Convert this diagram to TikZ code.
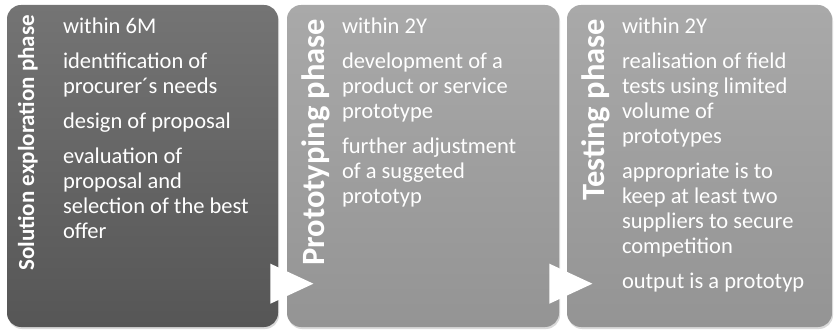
\documentclass[tikz,border=0pt]{standalone}
\usepackage{fontspec}
\setmainfont{Carlito}
\usetikzlibrary{shapes,shadows,positioning,calc}
\definecolor{darkTop}{HTML}{747474}
\definecolor{darkBot}{HTML}{565656}
\definecolor{lightTop}{HTML}{A9A9A9}
\definecolor{lightBot}{HTML}{949494}
\newcommand{\itemsize}{\fontsize{22.5}{25}\selectfont}

\begin{document}
\begin{tikzpicture}
[x=1pt,y=1pt,
 phase/.style={rectangle,rounded corners=14pt,inner sep=0pt,minimum height=322pt,
   drop shadow={opacity=.3,shadow xshift=1pt,shadow yshift=-2pt}},
 title/.style={rotate=90,anchor=north east,inner sep=0pt,text=white},
 items/.style={anchor=north west,inner sep=0pt,align=left,text=white,font=\itemsize},
 gap/.style={isosceles triangle,isosceles triangle stretches,fill=white,inner sep=0pt,
   minimum width=40pt,minimum height=43pt,anchor=lower side}]
\useasboundingbox (0,0) rectangle (835,332);
%% phases
\node[phase,minimum width=271pt,top color=darkTop,bottom color=darkBot] (E) at (142.5,166) {};
\node[phase,minimum width=272pt,top color=lightTop,bottom color=lightBot] (P) at (423,166) {};
\node[phase,minimum width=265pt,top color=lightTop,bottom color=lightBot] (T) at (699.5,166) {};
%% titles
\node[title,font=\bfseries\fontsize{23}{27}\selectfont] (Et) at ([xshift=11pt,yshift=-10pt]E.north west) {Solution exploration phase};
\node[title,font=\bfseries\fontsize{32.5}{38}\selectfont] (Pt) at ([xshift=15pt,yshift=-14pt]P.north west) {Prototyping phase};
\node[title,font=\bfseries\fontsize{32.5}{38}\selectfont] (Tt) at ([xshift=15pt,yshift=-14pt]T.north west) {Testing phase};
%% contents
\node[items] (El) at ([xshift=56pt,yshift=-13pt]E.north west)
{within 6M\\[10pt]
identification of\\ procurer´s needs\\[10pt]
design of proposal\\[10pt]
evaluation of\\ proposal and\\ selection of the best\\ offer};
\node[items] (Pl) at ([xshift=55pt,yshift=-13pt]P.north west)
{within 2Y\\[10pt]
development of a\\ product or service\\ prototype\\[10pt]
further adjustment\\ of a suggeted\\ prototyp};
\node[items] (Tl) at ([xshift=55pt,yshift=-13pt]T.north west)
{within 2Y\\[10pt]
realisation of field\\ tests using limited\\ volume of\\ prototypes\\[10pt]
appropriate is to\\ keep at least two\\ suppliers to secure\\ competition\\[10pt]
output is a prototyp};
%% arrows
\node[gap] (A1) at ([xshift=-8pt,yshift=43.5pt]E.south east) {};
\node[gap] (A2) at ([xshift=-10pt,yshift=43.5pt]P.south east) {};
\end{tikzpicture}
\end{document}
